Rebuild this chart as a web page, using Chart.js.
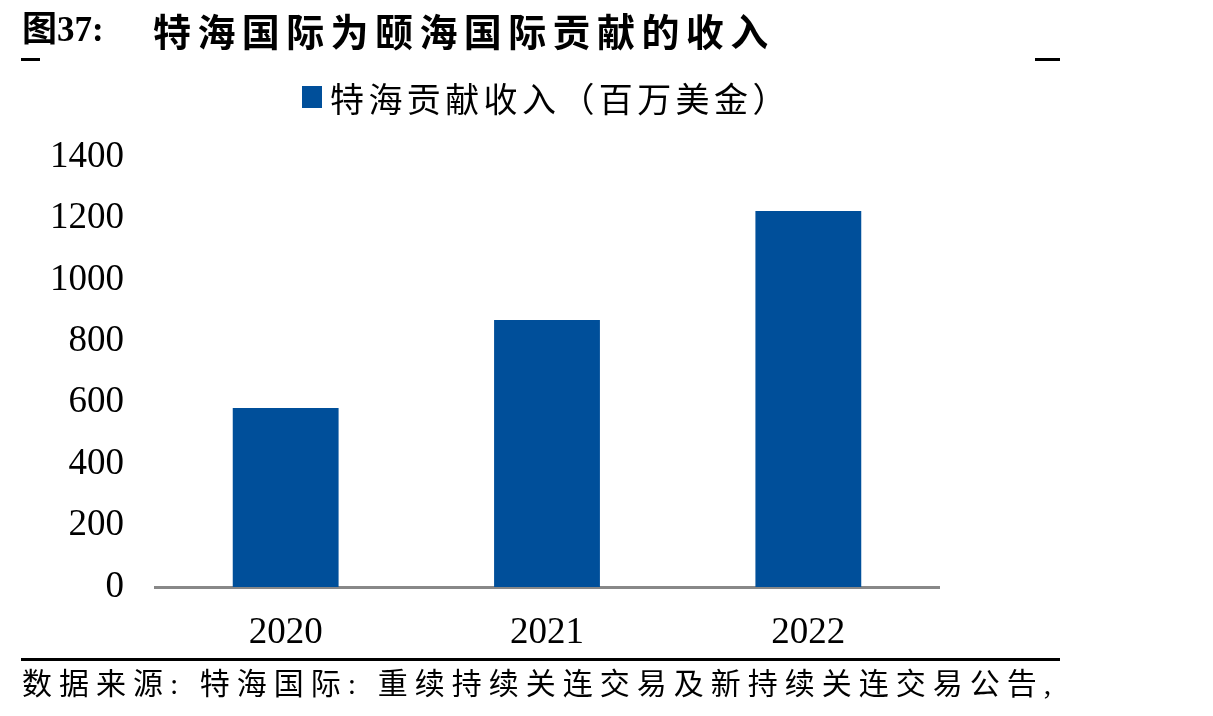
<!DOCTYPE html>
<html><head><meta charset="utf-8">
<script src="https://cdn.jsdelivr.net/npm/chart.js"></script>
<style>
html,body{margin:0;padding:0;background:#fff;}
#wrap{position:relative;width:1213px;height:716px;overflow:hidden;}
#c{position:absolute;left:0;top:0;}
.t{position:absolute;white-space:nowrap;color:#000;}
#title1{left:22px;top:8px;font:bold 35px "Liberation Serif","Noto Sans CJK SC";line-height:44px;}
#title2{left:153px;top:8px;font:bold 38px "Noto Sans CJK SC";line-height:44px;letter-spacing:6.4px;}
.dash{position:absolute;height:3px;background:#000;}
#legend{position:absolute;left:302px;top:77px;height:40px;display:flex;align-items:center;font:34px "Noto Sans CJK SC";letter-spacing:4.4px;color:#000;}
#legend .box{width:20px;height:22px;margin-right:8px;}
#rule{position:absolute;left:21px;top:658px;width:1039px;height:3px;background:#000;}
#src{left:22px;top:664px;font:30px "Liberation Serif","Noto Sans CJK SC";line-height:40px;letter-spacing:7px;}
</style></head>
<body><div id="wrap">
<canvas id="c" width="1213" height="716"></canvas>
<div id="title1" class="t">图37:</div>
<div id="title2" class="t">特海国际为颐海国际贡献的收入</div>
<div class="dash" style="left:21px;top:58px;width:19px"></div>
<div class="dash" style="left:1035px;top:58px;width:25px"></div>
<div id="legend"></div>
<div id="rule"></div>
<div id="src" class="t">数据来源: 特海国际: 重续持续关连交易及新持续关连交易公告,</div>
</div>
<script>
const categories = ["2020", "2021", "2022"];
const seriesName = "特海贡献收入（百万美金）";
const revenue = [583, 869, 1224];
const yMin = 0, yMax = 1400, yStep = 200;
const barColor = "#004F9A";

const lg = document.getElementById('legend');
lg.innerHTML = '<div class="box" style="background:' + barColor + '"></div><span>' + seriesName + '</span>';

new Chart(document.getElementById('c'), {
  type: 'bar',
  data: { labels: categories, datasets: [{ label: seriesName, data: revenue, backgroundColor: barColor, barPercentage: 0.405, categoryPercentage: 1 }] },
  options: {
    responsive: false, animation: false,
    layout: { padding: { left: 0, right: 274, top: 157, bottom: 0 } },
    plugins: { legend: { display: false }, tooltip: { enabled: false } },
    scales: {
      x: {
        grid: { display: false, drawTicks: false },
        border: { display: true, color: '#888888', width: 3 },
        ticks: { color: '#000', padding: 24, font: { family: 'Liberation Serif', size: 37 } },
        afterFit: function(s) { s.height = 129; }
      },
      y: {
        min: yMin, max: yMax,
        grid: { display: false, drawTicks: false },
        border: { display: false },
        ticks: { stepSize: yStep, color: '#000', padding: 31, font: { family: 'Liberation Serif', size: 37 },
          callback: function(v) { return String(v); } },
        afterFit: function(s) { s.width = 155; }
      }
    }
  }
});
</script>
</body></html>
